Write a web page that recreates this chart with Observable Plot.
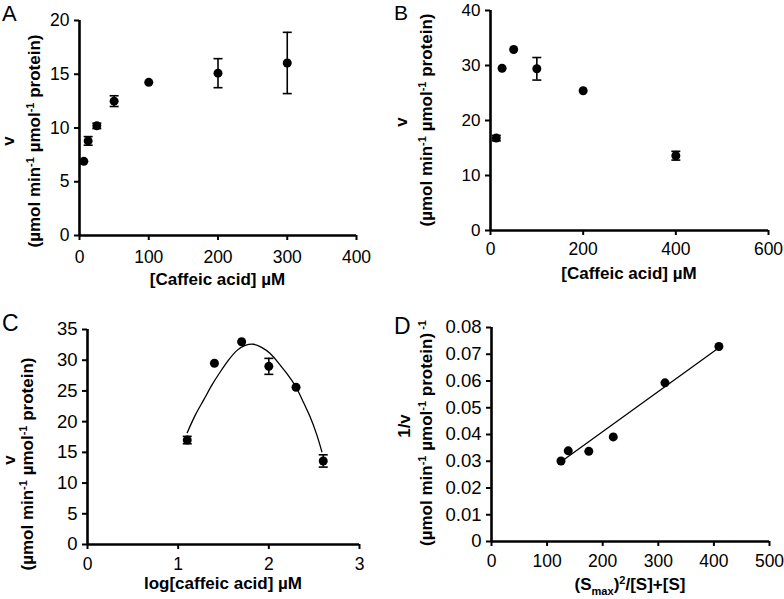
<!DOCTYPE html>
<html>
<head>
<meta charset="utf-8">
<script src="https://cdn.jsdelivr.net/npm/d3@7"></script>
<script src="https://cdn.jsdelivr.net/npm/@observablehq/plot@0.6"></script>
<style>
  body { margin: 0; background: #fff; }
  #fig { position: relative; width: 784px; height: 599px; font-family: "Liberation Sans", Arial, sans-serif; background: #fff; }
  .panel { position: absolute; }
  .panel svg { overflow: visible; display: block; max-width: none; }
</style>
</head>
<body>
<div id="fig"></div>
<script>
// ---------- Panel A: v vs [Caffeic acid] ----------
const aConc = [6.25, 12.5, 25, 50, 100, 200, 300];
const aRate = [6.9, 8.8, 10.2, 12.5, 14.25, 15.1, 16.05];
const aErr  = [0, 0.4, 0.25, 0.5, 0, 1.35, 2.85];
const aXTicks = [0, 100, 200, 300, 400];
const aYTicks = [0, 5, 10, 15, 20];

// ---------- Panel B ----------
const bConc = [12.5, 25, 50, 100, 200, 400];
const bRate = [16.8, 29.5, 32.9, 29.4, 25.4, 13.6];
const bErr  = [0.5, 0, 0, 2.05, 0, 0.8];
const bXTicks = [0, 200, 400, 600];
const bYTicks = [0, 10, 20, 30, 40];

// ---------- Panel C: v vs log[caffeic acid] ----------
const cLogConc = [1.1, 1.4, 1.7, 2.0, 2.3, 2.6];
const cRate    = [17.0, 29.5, 33.0, 29.0, 25.6, 13.6];
const cErr     = [0.6, 0, 0, 1.3, 0, 1.0];
// trend curve
const cCurveX = [1.10, 1.19, 1.28, 1.37, 1.46, 1.555, 1.65, 1.74, 1.83, 1.92, 2.015, 2.11, 2.20, 2.30, 2.38, 2.455, 2.53, 2.585];
const cCurveY = [18.2, 21.1, 23.5, 25.9, 28.0, 30.0, 31.6, 32.4, 32.6, 32.1, 31.1, 29.5, 27.8, 25.6, 23.2, 20.8, 17.8, 15.1];
const cXTicks = [0, 1, 2, 3];
const cYTicks = [0, 5, 10, 15, 20, 25, 30, 35];

// ---------- Panel D: 1/v vs (Smax)^2/[S]+[S] ----------
const dX = [125, 138, 175, 219, 312, 409];
const dY = [0.0301, 0.0339, 0.0337, 0.0391, 0.0593, 0.0729];
const dLineX = [125, 409];
const dLineY = [0.0298, 0.0724];
const dXTicks = [0, 100, 200, 300, 400, 500];
const dYTicks = [0, 0.01, 0.02, 0.03, 0.04, 0.05, 0.06, 0.07, 0.08];

// ---------- helpers ----------
const capSymbol = {
  draw(context, size) {
    const w = Math.sqrt(size / Math.PI);
    context.moveTo(-w, 0);
    context.lineTo(w, 0);
  }
};

function rich(sel, segs, size) {
  let shift = 0;
  for (const s of segs) {
    const target = s.sup ? -0.38 * size : s.sub ? 0.28 * size : 0;
    sel.append("tspan")
      .attr("dy", target - shift)
      .attr("font-size", (s.sup || s.sub) ? size * 0.65 : size)
      .text(s.t);
    shift = target;
  }
}

function panel(cfg) {
  const pts = cfg.x.map((x, i) => ({x, y: cfg.y[i], e: cfg.e ? cfg.e[i] : 0}));
  const errs = pts.filter(d => d.e > 0);
  const svg = Plot.plot({
    width: cfg.width,
    height: cfg.height,
    marginLeft: cfg.m[0], marginTop: cfg.m[1], marginRight: cfg.m[2], marginBottom: cfg.m[3],
    x: {domain: cfg.xDomain},
    y: {domain: cfg.yDomain},
    style: {fontFamily: "Liberation Sans, Arial, sans-serif", fontSize: "17px", color: "black", background: "white"},
    marks: [
      ...(cfg.extra || []),
      Plot.ruleX(errs, {x: "x", y1: d => d.y - d.e, y2: d => d.y + d.e, stroke: "black", strokeWidth: 1.6}),
      Plot.dot(errs, {x: "x", y: d => d.y + d.e, symbol: capSymbol, r: 4.5, fill: "none", stroke: "black", strokeWidth: 1.6}),
      Plot.dot(errs, {x: "x", y: d => d.y - d.e, symbol: capSymbol, r: 4.5, fill: "none", stroke: "black", strokeWidth: 1.6}),
      Plot.dot(pts, {x: "x", y: "y", r: 4.5, fill: "black", stroke: "none"}),
      Plot.axisX(cfg.xTicks, {tickSize: 5, tickPadding: cfg.xPad, strokeWidth: 2, label: null, fontSize: 17.5}),
      Plot.axisY(cfg.yTicks, {tickSize: 5, tickPadding: 5, strokeWidth: 2, label: null, fontSize: cfg.yFont, tickFormat: cfg.yFormat}),
      Plot.ruleX([cfg.xDomain[0]], {stroke: "black", strokeWidth: 2.6}),
      Plot.ruleY([cfg.yDomain[0]], {stroke: "black", strokeWidth: 2.6})
    ]
  });
  const s = d3.select(svg);
  // panel letter
  s.append("text").attr("x", 2).attr("y", cfg.letterY).attr("text-anchor", "start")
    .attr("font-size", cfg.letterSize || 23).attr("fill", "black").text(cfg.letter);
  // x title
  const xt = s.append("text").attr("x", cfg.xt[0]).attr("y", cfg.xt[1])
    .attr("text-anchor", "middle").attr("font-weight", "bold").attr("fill", "black");
  rich(xt, cfg.xTitle, 17);
  // y titles (two lines, rotated)
  cfg.yLines.forEach(line => {
    const t = s.append("text")
      .attr("transform", `translate(${line.x},${line.y}) rotate(-90)`)
      .attr("text-anchor", "middle").attr("font-weight", "bold").attr("fill", "black");
    rich(t, line.segs, 17);
  });
  const div = document.createElement("div");
  div.className = "panel";
  div.style.left = cfg.left + "px";
  div.style.top = cfg.top + "px";
  div.style.width = cfg.width + "px";
  div.style.height = cfg.height + "px";
  div.appendChild(svg);
  document.getElementById("fig").appendChild(div);
}

const vUnits = [{t: "(µmol min"}, {t: "-1", sup: true}, {t: " µmol"}, {t: "-1", sup: true}, {t: " protein)"}];
const concTitle = [{t: "[Caffeic acid] µM"}];

panel({
  left: 0, top: 0, width: 392, height: 300, m: [79, 20, 36, 65],
  x: aConc, y: aRate, e: aErr, xDomain: [0, 400], yDomain: [0, 20],
  xTicks: aXTicks, yTicks: aYTicks, xPad: 10, yFont: 17.5,
  letter: "A", letterY: 21, letterSize: 22, xt: [217.5, 285], xTitle: concTitle,
  yLines: [{x: 14, y: 141, segs: [{t: "v"}]}, {x: 40, y: 141, segs: vUnits}]
});

panel({
  left: 392, top: 0, width: 392, height: 300, m: [98, 10, 16, 70],
  x: bConc, y: bRate, e: bErr, xDomain: [0, 600], yDomain: [0, 40],
  xTicks: bXTicks, yTicks: bYTicks, xPad: 7, yFont: 17,
  letter: "B", letterY: 19.5, letterSize: 21, xt: [237, 279], xTitle: concTitle,
  yLines: [{x: 15, y: 122, segs: [{t: "v"}]}, {x: 40, y: 120, segs: vUnits}]
});

panel({
  left: 0, top: 300, width: 392, height: 299, m: [87, 29, 33, 55],
  x: cLogConc, y: cRate, e: cErr, xDomain: [0, 3], yDomain: [0, 35],
  xTicks: cXTicks, yTicks: cYTicks, xPad: 8, yFont: 18.5,
  extra: [Plot.line(cCurveX.map((x, i) => ({x, y: cCurveY[i]})), {x: "x", y: "y", curve: "natural", stroke: "black", strokeWidth: 1.3})],
  letter: "C", letterY: 31, xt: [223, 289], xTitle: [{t: "log[caffeic acid] µM"}],
  yLines: [{x: 15, y: 160, segs: [{t: "v"}]}, {x: 33, y: 164, segs: vUnits}]
});

panel({
  left: 392, top: 300, width: 392, height: 299, m: [99, 27, 15, 58],
  x: dX, y: dY, xDomain: [0, 500], yDomain: [0, 0.08],
  xTicks: dXTicks, yTicks: dYTicks, xPad: 8, yFont: 18.5, yFormat: d => d === 0 ? "0" : d.toFixed(2),
  extra: [Plot.line(dLineX.map((x, i) => ({x, y: dLineY[i]})), {x: "x", y: "y", stroke: "black", strokeWidth: 1.3})],
  letter: "D", letterY: 34, xt: [238, 290],
  xTitle: [{t: "(S"}, {t: "max", sub: true}, {t: ")"}, {t: "2", sup: true}, {t: "/[S]+[S]"}],
  yLines: [{x: 18, y: 126, segs: [{t: "1/v"}]},
           {x: 40, y: 133, segs: [...vUnits, {t: " -1", sup: true}]}]
});
</script>
</body>
</html>
